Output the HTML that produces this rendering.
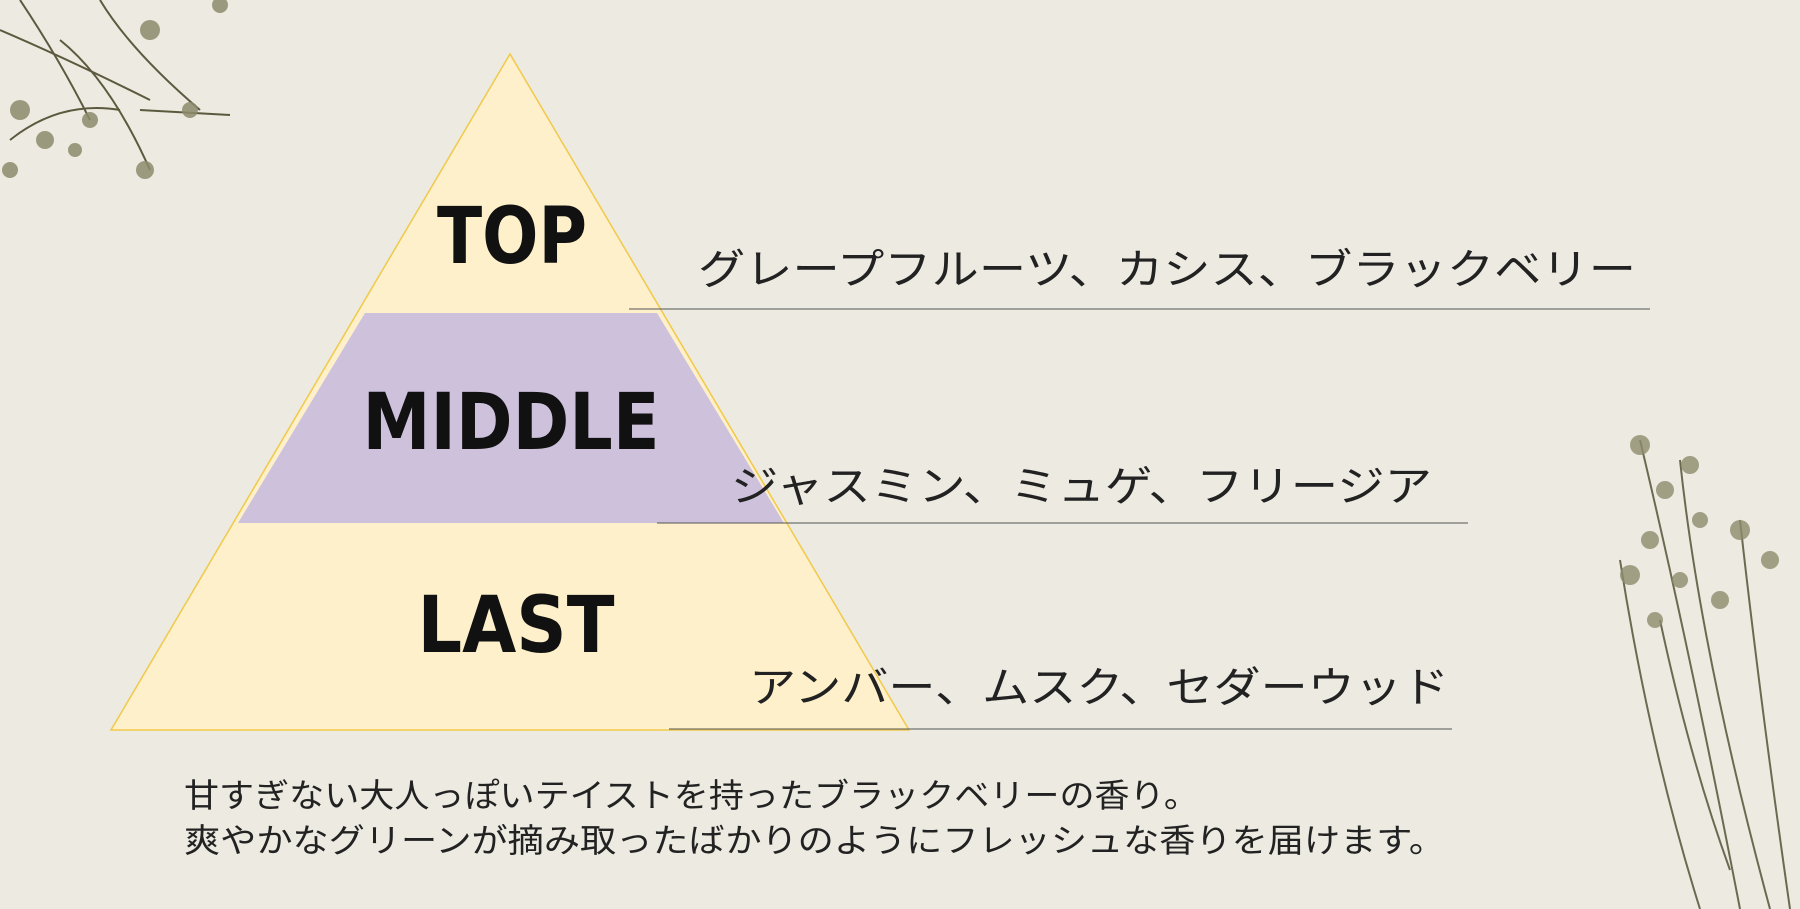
<!DOCTYPE html>
<html><head><meta charset="utf-8"><style>
html,body{margin:0;padding:0;background:#eceae1;}
svg{display:block;}
</style></head><body>
<svg width="1800" height="909" viewBox="0 0 1800 909" xmlns="http://www.w3.org/2000/svg">
<rect width="1800" height="909" fill="#eceae1"/>
<!-- flowers top-left -->
<g stroke="#5b5a3e" stroke-width="2" fill="none">
<path d="M20 0 Q60 60 90 120"/><path d="M0 30 Q70 60 150 100"/><path d="M60 40 Q110 80 150 170"/>
<path d="M100 0 Q130 50 200 110"/><path d="M10 140 Q60 100 120 110"/><path d="M140 110 L230 115"/>
</g>
<g fill="#8e8c6c" opacity="0.85">
<circle cx="20" cy="110" r="10"/><circle cx="45" cy="140" r="9"/><circle cx="10" cy="170" r="8"/>
<circle cx="90" cy="120" r="8"/><circle cx="145" cy="170" r="9"/><circle cx="150" cy="30" r="10"/>
<circle cx="190" cy="110" r="8"/><circle cx="75" cy="150" r="7"/><circle cx="220" cy="5" r="8"/>
</g>
<!-- flowers right -->
<g stroke="#6b6a50" stroke-width="2" fill="none">
<path d="M1640 440 Q1690 650 1740 909"/><path d="M1680 460 Q1700 650 1770 909"/>
<path d="M1620 560 Q1650 750 1700 909"/><path d="M1740 520 Q1760 700 1790 909"/>
<path d="M1660 620 Q1690 760 1730 870"/>
</g>
<g fill="#8e8c6c" opacity="0.8">
<circle cx="1640" cy="445" r="10"/><circle cx="1665" cy="490" r="9"/><circle cx="1690" cy="465" r="9"/>
<circle cx="1650" cy="540" r="9"/><circle cx="1630" cy="575" r="10"/><circle cx="1700" cy="520" r="8"/>
<circle cx="1740" cy="530" r="10"/><circle cx="1770" cy="560" r="9"/><circle cx="1655" cy="620" r="8"/>
<circle cx="1720" cy="600" r="9"/><circle cx="1680" cy="580" r="8"/>
</g>
<!-- pyramid -->
<polygon points="510,54 111,730 909,730" fill="#fdf0cb" stroke="#f1c94a" stroke-width="1.5"/>
<polygon points="365,313 657,313 784,523 238,523" fill="#cdc1dc"/>
<g font-family="'DejaVu Sans','Liberation Sans',sans-serif" font-weight="bold" fill="#111" text-anchor="middle" font-size="78">
<text x="512" y="263" textLength="150" lengthAdjust="spacingAndGlyphs">TOP</text>
<text x="511" y="449" textLength="297" lengthAdjust="spacingAndGlyphs">MIDDLE</text>
<text x="516" y="652" textLength="197" lengthAdjust="spacingAndGlyphs">LAST</text>
</g>
<g stroke="#555" stroke-width="1">
<line x1="629" y1="309" x2="1650" y2="309"/>
<line x1="657" y1="523" x2="1468" y2="523"/>
<line x1="669" y1="729" x2="1452" y2="729"/>
</g>
<g font-family="'Liberation Sans','Noto Sans CJK JP',sans-serif" fill="#222" font-size="42">
<text x="698" y="284" textLength="938" lengthAdjust="spacingAndGlyphs">グレープフルーツ、カシス、ブラックベリー</text>
<text x="731" y="501" textLength="701" lengthAdjust="spacingAndGlyphs">ジャスミン、ミュゲ、フリージア</text>
<text x="749" y="702" textLength="700" lengthAdjust="spacingAndGlyphs">アンバー、ムスク、セダーウッド</text>
</g>
<g font-family="'Liberation Sans','Noto Sans CJK JP',sans-serif" fill="#222" font-size="33">
<text x="184" y="807" textLength="1015" lengthAdjust="spacingAndGlyphs">甘すぎない大人っぽいテイストを持ったブラックベリーの香り。</text>
<text x="184" y="852" textLength="1261" lengthAdjust="spacingAndGlyphs">爽やかなグリーンが摘み取ったばかりのようにフレッシュな香りを届けます。</text>
</g>
</svg>
</body></html>
